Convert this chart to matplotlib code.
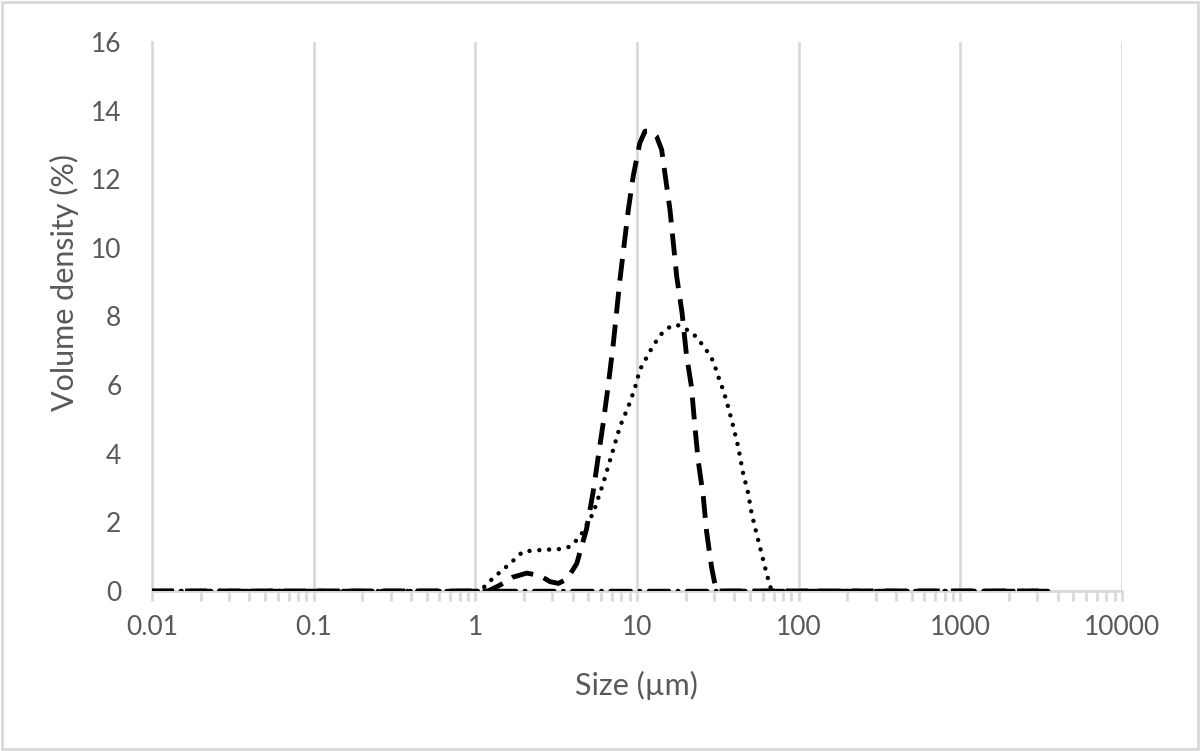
import matplotlib.pyplot as plt
from matplotlib.ticker import LogLocator, FixedLocator, NullFormatter

# particle size (um) and volume density (%)
size_a = [0.01, 1.2, 1.26, 1.42, 1.7, 2.08, 2.5, 2.9, 3.26, 3.7, 4.24, 4.87, 5.36, 5.75,
          6.18, 6.64, 7.13, 7.84, 8.83, 9.48, 10.4, 11.2, 12.2, 13.2, 14.2, 16.0, 17.6,
          19.0, 20.2, 21.7, 22.8, 23.9, 25.7, 26.9, 28.9, 30.9, 3500]
dens_a = [0, 0, 0.05, 0.17, 0.4, 0.52, 0.45, 0.27, 0.22, 0.35, 0.8, 1.8, 2.9, 3.9,
          4.9, 6.0, 7.2, 9.07, 11.1, 12.1, 13.05, 13.4, 13.4, 13.25, 12.86, 11.1, 9.16,
          8.1, 6.9, 5.96, 4.8, 3.8, 2.75, 1.75, 0.7, 0, 0]

size_b = [0.01, 1.07, 1.29, 1.64, 1.97, 2.62, 3.3, 3.85, 4.44, 5.36, 6.18, 6.97, 7.84,
          8.83, 9.7, 10.4, 12.0, 13.9, 16.0, 17.6, 19.7, 22.7, 26.2, 29.6, 31.8, 34.1,
          36.6, 39.4, 42.2, 45.3, 48.7, 51.1, 54.8, 58.9, 63.2, 68, 3500]
dens_b = [0, 0, 0.38, 0.8, 1.15, 1.2, 1.22, 1.29, 1.58, 2.27, 3.14, 3.97, 4.79,
          5.37, 5.91, 6.44, 6.98, 7.46, 7.7, 7.76, 7.66, 7.45, 7.1, 6.7, 6.25, 5.86,
          5.37, 4.79, 4.21, 3.43, 2.85, 2.27, 1.68, 1.1, 0.52, 0, 0]

size_c = [0.01, 3500]
dens_c = [0, 0]

text_col = '#595959'
grid_col = '#d9d9d9'

plt.rcParams['font.family'] = ['Lato', 'DejaVu Sans']

fig = plt.figure(figsize=(12, 7.51), dpi=100)
fig.patches.append(plt.Rectangle((0.002, 0.003), 0.996, 0.994, transform=fig.transFigure,
                                 fill=False, edgecolor=grid_col, linewidth=2))
ax = fig.add_axes([0.1267, 0.2131, 0.8083, 0.7310])

ax.plot(size_c, dens_c, color='black', linewidth=3.2, dashes=(4.5, 2, 0.1, 2),
        dash_capstyle='round', zorder=3)
ax.plot(size_a, dens_a, color='black', linewidth=3.5, dashes=(4.5, 2.3), zorder=4)
ax.plot(size_b, dens_b, color='black', linewidth=3.2, dashes=(0.01, 2.2),
        dash_capstyle='round', zorder=4)

ax.set_xscale('log')
ax.set_xlim(0.01, 10000)
ax.set_ylim(0, 16)

ax.xaxis.set_major_locator(FixedLocator([0.01, 0.1, 1, 10, 100, 1000, 10000]))
ax.set_xticklabels(['0.01', '0.1', '1', '10', '100', '1000', '10000'])
ax.xaxis.set_minor_locator(LogLocator(base=10, subs=range(2, 10), numticks=20))
ax.xaxis.set_minor_formatter(NullFormatter())
ax.set_yticks(range(0, 17, 2))

ax.grid(axis='x', which='major', color=grid_col, linewidth=2)
ax.set_axisbelow(True)

for s in ['top', 'right']:
    ax.spines[s].set_visible(False)
ax.spines['left'].set_color(grid_col)
ax.spines['bottom'].set_color(grid_col)
ax.spines['left'].set_linewidth(2)
ax.spines['bottom'].set_linewidth(2)

ax.tick_params(axis='x', which='both', direction='out', color=grid_col, width=2,
               labelsize=19, labelcolor=text_col, pad=10)
ax.tick_params(axis='x', which='major', length=7)
ax.tick_params(axis='x', which='minor', length=7)
ax.tick_params(axis='y', length=0, labelsize=19, labelcolor=text_col, pad=22)

ax.set_xlabel('Size (µm)', fontsize=22, color=text_col, va='center')
ax.xaxis.set_label_coords(0.499, -0.173)
ax.set_ylabel('Volume density (%)', fontsize=22, color=text_col, va='center')
ax.yaxis.set_label_coords(-0.0907, 0.562)

fig.savefig('out.png', dpi=100)
